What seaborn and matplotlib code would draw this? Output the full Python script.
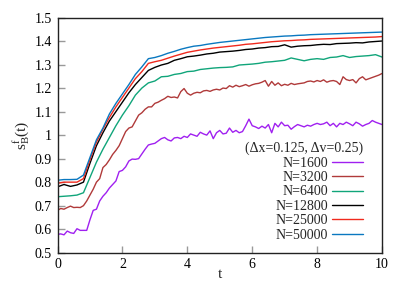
import numpy as np
import matplotlib
matplotlib.use('Agg')
import matplotlib.pyplot as plt
from matplotlib.ticker import FuncFormatter
import seaborn as sns

# time grids
t_fine = np.round(np.arange(0, 10.01, 0.1), 1)
t_coarse = np.round(np.arange(0, 10.01, 0.2), 1)

# N=1600 (step 0.1)
s_1600 = [0.578, 0.58, 0.576, 0.592, 0.585, 0.582, 0.602, 0.595, 0.595, 0.595,
          0.64, 0.68, 0.685, 0.72, 0.74, 0.755, 0.775, 0.79, 0.805, 0.845,
          0.85, 0.865, 0.89, 0.898, 0.897, 0.9, 0.92, 0.94, 0.958, 0.962,
          0.965, 0.975, 0.985, 0.99, 0.98, 0.975, 0.988, 0.99, 0.985, 0.995,
          0.99, 1.005, 1.0, 0.995, 1.012, 1.005, 1.0, 1.018, 0.985, 1.01,
          1.02, 1.005, 1.008, 1.03, 1.012, 1.02, 1.01, 1.015, 1.04, 1.068,
          1.04, 1.035, 1.028, 1.038, 1.03, 1.045, 1.01, 1.05, 1.035, 1.055,
          1.04, 1.042, 1.025, 1.036, 1.045, 1.04, 1.035, 1.042, 1.038, 1.045,
          1.05, 1.045, 1.048, 1.055, 1.04, 1.05, 1.035, 1.05, 1.045, 1.055,
          1.048, 1.04, 1.055, 1.048, 1.038, 1.045, 1.05, 1.062, 1.055, 1.05,
          1.045]

# N=3200 (step 0.1)
s_3200 = [0.68, 0.688, 0.685, 0.692, 0.698, 0.692, 0.693, 0.692, 0.70, 0.72,
          0.745, 0.77, 0.80, 0.815, 0.862, 0.875, 0.895, 0.918, 0.935, 0.955,
          0.985, 1.015, 1.03, 1.035, 1.06, 1.085, 1.095, 1.11, 1.12, 1.12,
          1.135, 1.14, 1.148, 1.155, 1.165, 1.16, 1.162, 1.158, 1.185, 1.198,
          1.178, 1.17, 1.178, 1.182, 1.18, 1.188, 1.19, 1.186, 1.192, 1.195,
          1.192, 1.2, 1.198, 1.21, 1.204, 1.212, 1.206, 1.21, 1.215, 1.208,
          1.214, 1.218, 1.22, 1.225, 1.232, 1.208, 1.228, 1.212, 1.222, 1.21,
          1.216, 1.212, 1.22, 1.215, 1.218, 1.22, 1.222, 1.228, 1.23, 1.226,
          1.232, 1.228, 1.235, 1.225, 1.23, 1.232, 1.228, 1.215, 1.248, 1.236,
          1.232, 1.236, 1.222, 1.24, 1.248, 1.235, 1.24, 1.245, 1.25, 1.255,
          1.262]

# N=6400 (step 0.2)
s_6400 = [0.738, 0.74, 0.742, 0.745, 0.755, 0.82, 0.885, 0.94, 0.99, 1.04,
          1.085, 1.125, 1.17, 1.20, 1.222, 1.23, 1.248, 1.25, 1.258, 1.262,
          1.27, 1.272, 1.279, 1.282, 1.285, 1.287, 1.288, 1.29, 1.298, 1.30,
          1.302, 1.305, 1.31, 1.312, 1.315, 1.318, 1.328, 1.322, 1.316, 1.322,
          1.325, 1.322, 1.33, 1.332, 1.338, 1.33, 1.334, 1.336, 1.338, 1.342,
          1.332]

# N=12800 (step 0.2)
s_12800 = [0.78, 0.79, 0.782, 0.788, 0.80, 0.88, 0.955, 1.01, 1.06, 1.10,
           1.14, 1.18, 1.215, 1.245, 1.275, 1.288, 1.298, 1.305, 1.318, 1.325,
           1.333, 1.336, 1.34, 1.345, 1.348, 1.353, 1.355, 1.357, 1.36, 1.364,
           1.366, 1.37, 1.372, 1.376, 1.377, 1.384, 1.374, 1.378, 1.38, 1.381,
           1.384, 1.386, 1.385, 1.389, 1.39, 1.391, 1.393, 1.392, 1.396, 1.398,
           1.40]

# N=25000 (step 0.2)
s_25000 = [0.795, 0.80, 0.80, 0.80, 0.815, 0.895, 0.97, 1.025, 1.075, 1.12,
           1.16, 1.20, 1.24, 1.27, 1.305, 1.312, 1.318, 1.327, 1.336, 1.344,
           1.352, 1.357, 1.362, 1.366, 1.37, 1.373, 1.376, 1.379, 1.382, 1.386,
           1.388, 1.391, 1.394, 1.397, 1.399, 1.401, 1.402, 1.404, 1.405, 1.407,
           1.408, 1.409, 1.41, 1.411, 1.412, 1.413, 1.414, 1.415, 1.416, 1.417,
           1.419]

# N=50000 (step 0.2)
s_50000 = [0.808, 0.811, 0.811, 0.812, 0.83, 0.905, 0.98, 1.03, 1.09, 1.135,
           1.175, 1.215, 1.258, 1.29, 1.325, 1.33, 1.338, 1.348, 1.356, 1.365,
           1.372, 1.378, 1.381, 1.386, 1.39, 1.394, 1.397, 1.40, 1.403, 1.406,
           1.409, 1.412, 1.415, 1.417, 1.419, 1.421, 1.422, 1.424, 1.425, 1.427,
           1.428, 1.429, 1.43, 1.431, 1.432, 1.433, 1.434, 1.435, 1.436, 1.437,
           1.438]

labels = ['N=1600', 'N=3200', 'N=6400', 'N=12800', 'N=25000', 'N=50000']
colors = ['#a020f0', '#b03a3a', '#10a57a', '#000000', '#f02a1e', '#0a78c0']

sns.set_style('ticks')
plt.rcParams['font.family'] = ['Liberation Serif', 'DejaVu Serif']
plt.rcParams['mathtext.fontset'] = 'custom'
plt.rcParams['mathtext.rm'] = 'Liberation Serif'
plt.rcParams['mathtext.it'] = 'Liberation Serif'

fig = plt.figure(figsize=(4.09, 2.86), dpi=100)
ax = fig.add_axes([0.1406, 0.1164, 0.7934, 0.8224])

series = [(t_fine, s_1600), (t_fine, s_3200), (t_coarse, s_6400),
          (t_coarse, s_12800), (t_coarse, s_25000), (t_coarse, s_50000)]
for (tt, ss), lab, col in zip(series, labels, colors):
    sns.lineplot(x=tt, y=ss, ax=ax, color=col, label=lab, linewidth=1)

ax.set_xlim(0, 10)
ax.set_ylim(0.5, 1.5)
ax.set_xticks([0, 2, 4, 6, 8, 10])
ax.set_yticks(np.round(np.arange(0.5, 1.51, 0.1), 1))
fmt = FuncFormatter(lambda v, p: f'{v:g}')
ax.xaxis.set_major_formatter(fmt)
ax.yaxis.set_major_formatter(fmt)
ax.tick_params(direction='in', length=5, width=1, color='#999999',
               labelsize=10, labelcolor='black', pad=4)
for sp in ax.spines.values():
    sp.set_color('#222222')
    sp.set_linewidth(1)

ax.set_xlabel('t', fontsize=11, labelpad=-2)
ax.set_ylabel(r'$\mathrm{s}_\mathrm{B}^\mathrm{f}\mathrm{(t)}$', fontsize=11, labelpad=2)

leg = ax.legend(title='(Δx=0.125, Δv=0.25)', loc='lower right',
                bbox_to_anchor=(0.975, 0.0), frameon=False, markerfirst=False,
                fontsize=10, title_fontsize=10, handlelength=2.2,
                labelspacing=0.1, handletextpad=0.3, borderpad=0.3,
                alignment='right')

fig.savefig('out.png', dpi=100)
